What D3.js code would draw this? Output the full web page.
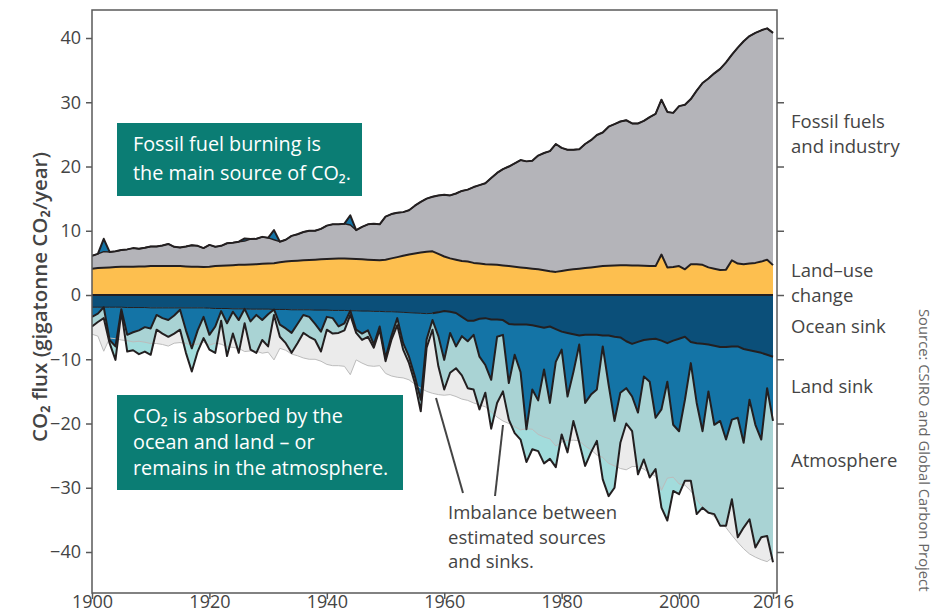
<!DOCTYPE html>
<html><head><meta charset="utf-8">
<script src="https://cdn.jsdelivr.net/npm/d3@7"></script>
<style>
body{margin:0;background:#fff;}
svg{display:block;font-family:'Open Sans',sans-serif;}
</style>
</head><body>
<svg id="c" width="941" height="612"></svg>
<script>
// ---------- DATA (GtCO2 per year, 1900–2016) ----------
const years = d3.range(1900, 2017);
const fossil = [
 2.0,2.2,2.5,2.4,2.45,2.6,2.7,2.9,2.75,2.9,
 3.05,3.05,3.2,3.45,3.0,2.9,3.1,3.35,3.25,2.95,
 3.4,3.0,3.1,3.45,3.5,3.6,3.7,3.95,3.95,4.2,
 4.0,3.65,3.2,3.4,3.9,4.1,4.4,4.55,4.5,4.75,
 5.2,5.35,5.3,5.4,5.25,4.5,5.05,5.5,5.65,5.6,
 6.7,6.9,6.9,6.8,6.9,7.45,7.9,8.25,8.5,9.1,
 9.6,9.8,10.3,10.9,11.2,11.8,12.2,12.6,13.45,14.3,
 15.0,15.5,16.1,16.7,16.6,16.8,17.7,18.25,18.7,19.9,
 19.15,18.7,18.6,18.6,19.3,19.8,20.5,20.8,21.65,22.0,
 22.35,22.55,22.1,22.1,22.55,23.2,23.7,24.1,24.2,24.0,
 24.9,25.6,25.7,27.0,28.3,29.4,30.4,31.3,32.25,32.0,
 33.6,34.7,35.4,35.8,36.0,36.0,36.15];
const landUse = [
 4.1,4.2,4.25,4.3,4.35,4.4,4.4,4.4,4.45,4.45,
 4.5,4.5,4.5,4.5,4.5,4.5,4.45,4.4,4.4,4.35,
 4.4,4.5,4.55,4.6,4.65,4.7,4.7,4.75,4.8,4.85,
 4.9,4.95,5.1,5.2,5.3,5.35,5.4,5.45,5.5,5.55,
 5.6,5.65,5.7,5.7,5.65,5.6,5.55,5.5,5.45,5.4,
 5.5,5.7,5.9,6.1,6.3,6.45,6.6,6.75,6.8,6.4,
 6.0,5.7,5.5,5.3,5.2,5.0,4.9,4.8,4.75,4.7,
 4.6,4.5,4.4,4.3,4.2,4.1,4.0,3.85,3.7,3.6,
 3.75,3.9,4.0,4.1,4.2,4.3,4.4,4.5,4.55,4.6,
 4.65,4.65,4.6,4.6,4.55,4.5,4.5,6.3,4.3,4.35,
 4.5,4.0,4.8,4.8,4.7,4.3,4.1,3.9,3.95,5.4,
 4.9,4.8,4.9,5.0,5.2,5.5,4.65];
const oceanSink = [
 1.9,1.9,1.9,1.9,1.9,1.9,1.95,1.95,1.95,1.95,
 2.0,2.0,2.0,2.0,2.0,2.0,2.0,2.0,2.0,2.0,
 2.05,2.1,2.1,2.1,2.15,2.15,2.15,2.2,2.2,2.2,
 2.2,2.25,2.25,2.25,2.3,2.3,2.3,2.3,2.35,2.35,
 2.35,2.4,2.4,2.4,2.45,2.45,2.5,2.5,2.55,2.55,
 2.6,2.6,2.65,2.7,2.75,2.8,2.85,2.9,2.85,2.7,
 2.5,2.6,2.8,3.4,4.0,4.0,3.7,3.6,3.8,3.8,
 3.9,4.5,4.6,4.6,4.6,4.7,4.9,5.1,4.9,5.3,
 5.7,5.9,6.1,6.3,6.2,6.2,6.2,6.3,6.3,6.5,
 6.6,7.2,7.6,7.3,7.0,6.9,6.8,7.1,7.5,7.1,
 6.8,6.5,7.3,7.5,7.6,7.7,7.9,8.1,8.1,8.0,
 8.0,8.4,8.6,8.8,9.0,9.3,9.6];
// land sink: positive = uptake, negative = land acting as a source
const landSink = [
 1.5,1.0,-2.0,5.1,6.1,0.3,4.25,3.85,3.55,3.05,
 3.2,1.1,1.6,1.9,1.2,0.3,3.5,6.3,3.5,1.4,
 4.15,2.8,0.4,2.3,0.45,1.75,-0.4,1.9,0.9,1.7,
 0.8,-1.5,2.35,2.95,3.6,2.2,0.8,1.1,2.15,3.35,
 1.05,1.2,2.5,2.0,-1.5,2.95,3.5,3.0,5.15,2.35,
 7.2,3.8,0.95,4.8,6.85,9.9,13.45,4.0,1.05,3.7,
 7.6,3.3,5.2,3.0,3.2,2.2,5.9,7.3,9.4,2.7,
 2.3,9.2,4.7,7.4,16.3,10.0,11.5,6.5,11.9,5.1,
 2.8,9.9,5.9,1.4,10.6,9.3,8.5,1.7,7.7,13.1,
 8.6,7.3,8.2,11.0,5.7,6.6,12.3,10.7,6.0,13.1,
 14.4,9.8,3.3,9.3,13.6,7.3,12.3,11.5,14.4,11.4,
 11.1,14.6,7.7,11.4,13.5,5.2,10.0];
const atmosphere = [
 1.5,1.3,1.7,0.5,2.1,0.4,2.6,2.8,3.7,3.8,
 4.1,2.3,2.4,2.6,2.8,3.1,3.5,3.6,3.3,3.3,
 2.3,4.1,1.5,5.1,3.4,5.1,2.25,4.4,5.9,3.1,
 5.0,0.85,1.9,2.3,3.1,3.0,2.8,3.1,2.5,3.1,
 2.0,2.4,1.0,1.1,0.65,0.5,1.0,1.0,0.5,0.5,
 0.5,0.6,1.1,1.0,1.0,1.0,1.8,1.3,1.5,4.7,
 4.6,6.2,3.4,6.1,7.3,8.5,8.2,4.3,7.6,10.3,
 8.8,5.7,12.2,10.5,5.1,9.3,7.9,14.6,8.7,16.4,
 13.2,8.7,7.6,15.3,9.8,9.0,8.0,20.7,17.3,10.4,
 7.8,5.5,5.4,9.6,12.9,14.9,8.0,15.3,21.6,10.3,
 9.8,12.6,18.3,17.3,11.9,18.9,13.9,16.3,13.4,12.4,
 18.6,13.2,18.6,19.1,15.2,23.0,22.0];
const yTicks = [-40,-30,-20,-10,0,10,20,30,40];
const xTicks = [1900,1920,1940,1960,1980,2000,2016];
const rightLabels = [
 {lines:["Fossil fuels","and industry"], y:128},
 {lines:["Land\u2013use","change"], y:277},
 {lines:["Ocean sink"], y:333},
 {lines:["Land sink"], y:393},
 {lines:["Atmosphere"], y:467}
];

// ---------- DERIVED STACKS ----------
const rows = years.map((yr,i)=>{
  const lu=landUse[i], top=lu+fossil[i];
  const src=Math.max(0,-landSink[i]), snk=Math.max(0,landSink[i]);
  const oc=oceanSink[i], b1=oc+snk, b2=b1+atmosphere[i];
  return {yr, lu, top, topSrc:top+src, oc, b1, b2, mirror:top+src};
});

// ---------- SCALES ----------
const L=92,R=777,T=10,B=593;
const x=d3.scaleLinear().domain([1900,2016]).range([92,773]);
const y=d3.scaleLinear().domain([-46.38,44.36]).range([B,T]);
const svg=d3.select('#c');
const defs=svg.append('defs');
defs.append('clipPath').attr('id','plot').append('rect').attr('x',L).attr('y',T).attr('width',R-L).attr('height',B-T);

const band=(f0,f1)=>d3.area().x(d=>x(d.yr)).y0(d=>y(f0(d))).y1(d=>y(f1(d)));
const line=(f)=>d3.line().x(d=>x(d.yr)).y(d=>y(f(d)));

const g=svg.append('g').attr('clip-path','url(#plot)');
// imbalance background (mirror of sources)
g.append('path').attr('d',band(d=>0,d=>-d.mirror)(rows)).attr('fill','#ebebeb');
// sinks
g.append('path').attr('d',band(d=>0,d=>-d.oc)(rows)).attr('fill','#0b4f79');
g.append('path').attr('d',band(d=>-d.oc,d=>-d.b1)(rows)).attr('fill','#1474a6');
const atmD=band(d=>-d.b1,d=>-d.b2)(rows);
g.append('path').attr('d',atmD).attr('fill','#a9d3d4');
defs.append('clipPath').attr('id','atmClip').append('path').attr('d',atmD);
g.append('path').attr('d',band(d=>-d.mirror,d=>-60)(rows)).attr('fill','#a2dcdc').attr('clip-path','url(#atmClip)');
g.append('path').attr('d',line(d=>-d.mirror)(rows)).attr('fill','none').attr('stroke','#bcbcbc').attr('stroke-width',1);
// sources
g.append('path').attr('d',band(d=>0,d=>d.lu)(rows)).attr('fill','#fdbf4f');
g.append('path').attr('d',band(d=>d.lu,d=>d.top)(rows)).attr('fill','#b4b4b9');
g.append('path').attr('d',band(d=>d.top,d=>d.topSrc)(rows)).attr('fill','#1474a6');

const stroke=(p,w)=>p.attr('fill','none').attr('stroke','#231f20').attr('stroke-width',w).attr('stroke-linejoin','round');
stroke(g.append('path').attr('d',line(d=>d.lu)(rows)),2);
stroke(g.append('path').attr('d',line(d=>d.top)(rows)),1.4);
stroke(g.append('path').attr('d',line(d=>d.topSrc)(rows)),2);
stroke(g.append('path').attr('d',line(d=>-d.oc)(rows.filter(d=>d.yr<=1958))),1);
stroke(g.append('path').attr('d',line(d=>-d.oc)(rows.filter(d=>d.yr>=1958))),2);
stroke(g.append('path').attr('d',line(d=>-d.b1)(rows)),2);
stroke(g.append('path').attr('d',line(d=>-d.b2)(rows)),2);
g.append('line').attr('x1',L).attr('x2',x(2016)).attr('y1',y(0)).attr('y2',y(0)).attr('stroke','#231f20').attr('stroke-width',2);

// ---------- FRAME & AXES ----------
const ax='#595959';
svg.append('rect').attr('x',L).attr('y',T).attr('width',R-L).attr('height',B-T).attr('fill','none').attr('stroke',ax).attr('stroke-width',1.5);
const yl=svg.append('g').attr('transform',`translate(${L},0)`).call(d3.axisLeft(y).tickValues(yTicks).tickSize(6).tickFormat(d=>d<0?'\u2212'+Math.abs(d):d));
const yr=svg.append('g').attr('transform',`translate(${R},0)`).call(d3.axisRight(y).tickValues(yTicks).tickSize(7).tickFormat(''));
const xb=svg.append('g').attr('transform',`translate(0,${B})`).call(d3.axisBottom(x).tickValues(xTicks).tickSize(6).tickFormat(d3.format('d')));
[yl,yr,xb].forEach(a=>{a.select('.domain').remove();a.selectAll('line').attr('stroke',ax).attr('stroke-width',1.5);
  a.selectAll('text').attr('fill','#444').style('font-size','18px').style('font-family',"'Open Sans',sans-serif");});
yl.selectAll('text').attr('x',-11);
xb.selectAll('text').attr('y',2);

svg.append('text').attr('transform','translate(47,297) rotate(-90)').attr('text-anchor','middle')
  .attr('fill','#444').style('font-size','20.5px').style('font-weight',600).text('CO\u2082 flux (gigatonne CO\u2082/year)');

// right labels
rightLabels.forEach(l=>{
  const t=svg.append('text').attr('x',791).attr('y',l.y).attr('fill','#444').style('font-size','18.5px');
  l.lines.forEach((s,i)=>t.append('tspan').attr('x',791).attr('dy',i?24.5:0).text(s));
});
svg.append('text').attr('transform','translate(919,309) rotate(90)').attr('fill','#666').style('font-size','14.8px')
  .text('Source: CSIRO and Global Carbon Project');

// callout boxes
const boxes=[
 {x:117,y:123,w:245,h:73,lines:["Fossil fuel burning is","the main source of CO\u2082."],ty:151,ls:29},
 {x:117,y:395,w:286,h:95,lines:["CO\u2082 is absorbed by the","ocean and land \u2013 or","remains in the atmosphere."],ty:423,ls:26}
];
boxes.forEach(b=>{
  svg.append('rect').attr('x',b.x).attr('y',b.y).attr('width',b.w).attr('height',b.h).attr('fill','#0b7d74');
  const t=svg.append('text').attr('x',b.x+16).attr('y',b.ty).attr('fill','#fff').style('font-size','19.8px');
  b.lines.forEach((s,i)=>t.append('tspan').attr('x',b.x+16).attr('dy',i?b.ls:0).text(s));
});

// imbalance annotation
svg.append('line').attr('x1',463).attr('y1',493).attr('x2',436).attr('y2',398).attr('stroke','#444').attr('stroke-width',2);
svg.append('line').attr('x1',495).attr('y1',496).attr('x2',503).attr('y2',425).attr('stroke','#444').attr('stroke-width',2);
const an=svg.append('text').attr('x',448).attr('y',519).attr('fill','#444').style('font-size','18.5px');
["Imbalance between","estimated sources","and sinks."].forEach((s,i)=>an.append('tspan').attr('x',448).attr('dy',i?24.5:0).text(s));
</script>
</body></html>
